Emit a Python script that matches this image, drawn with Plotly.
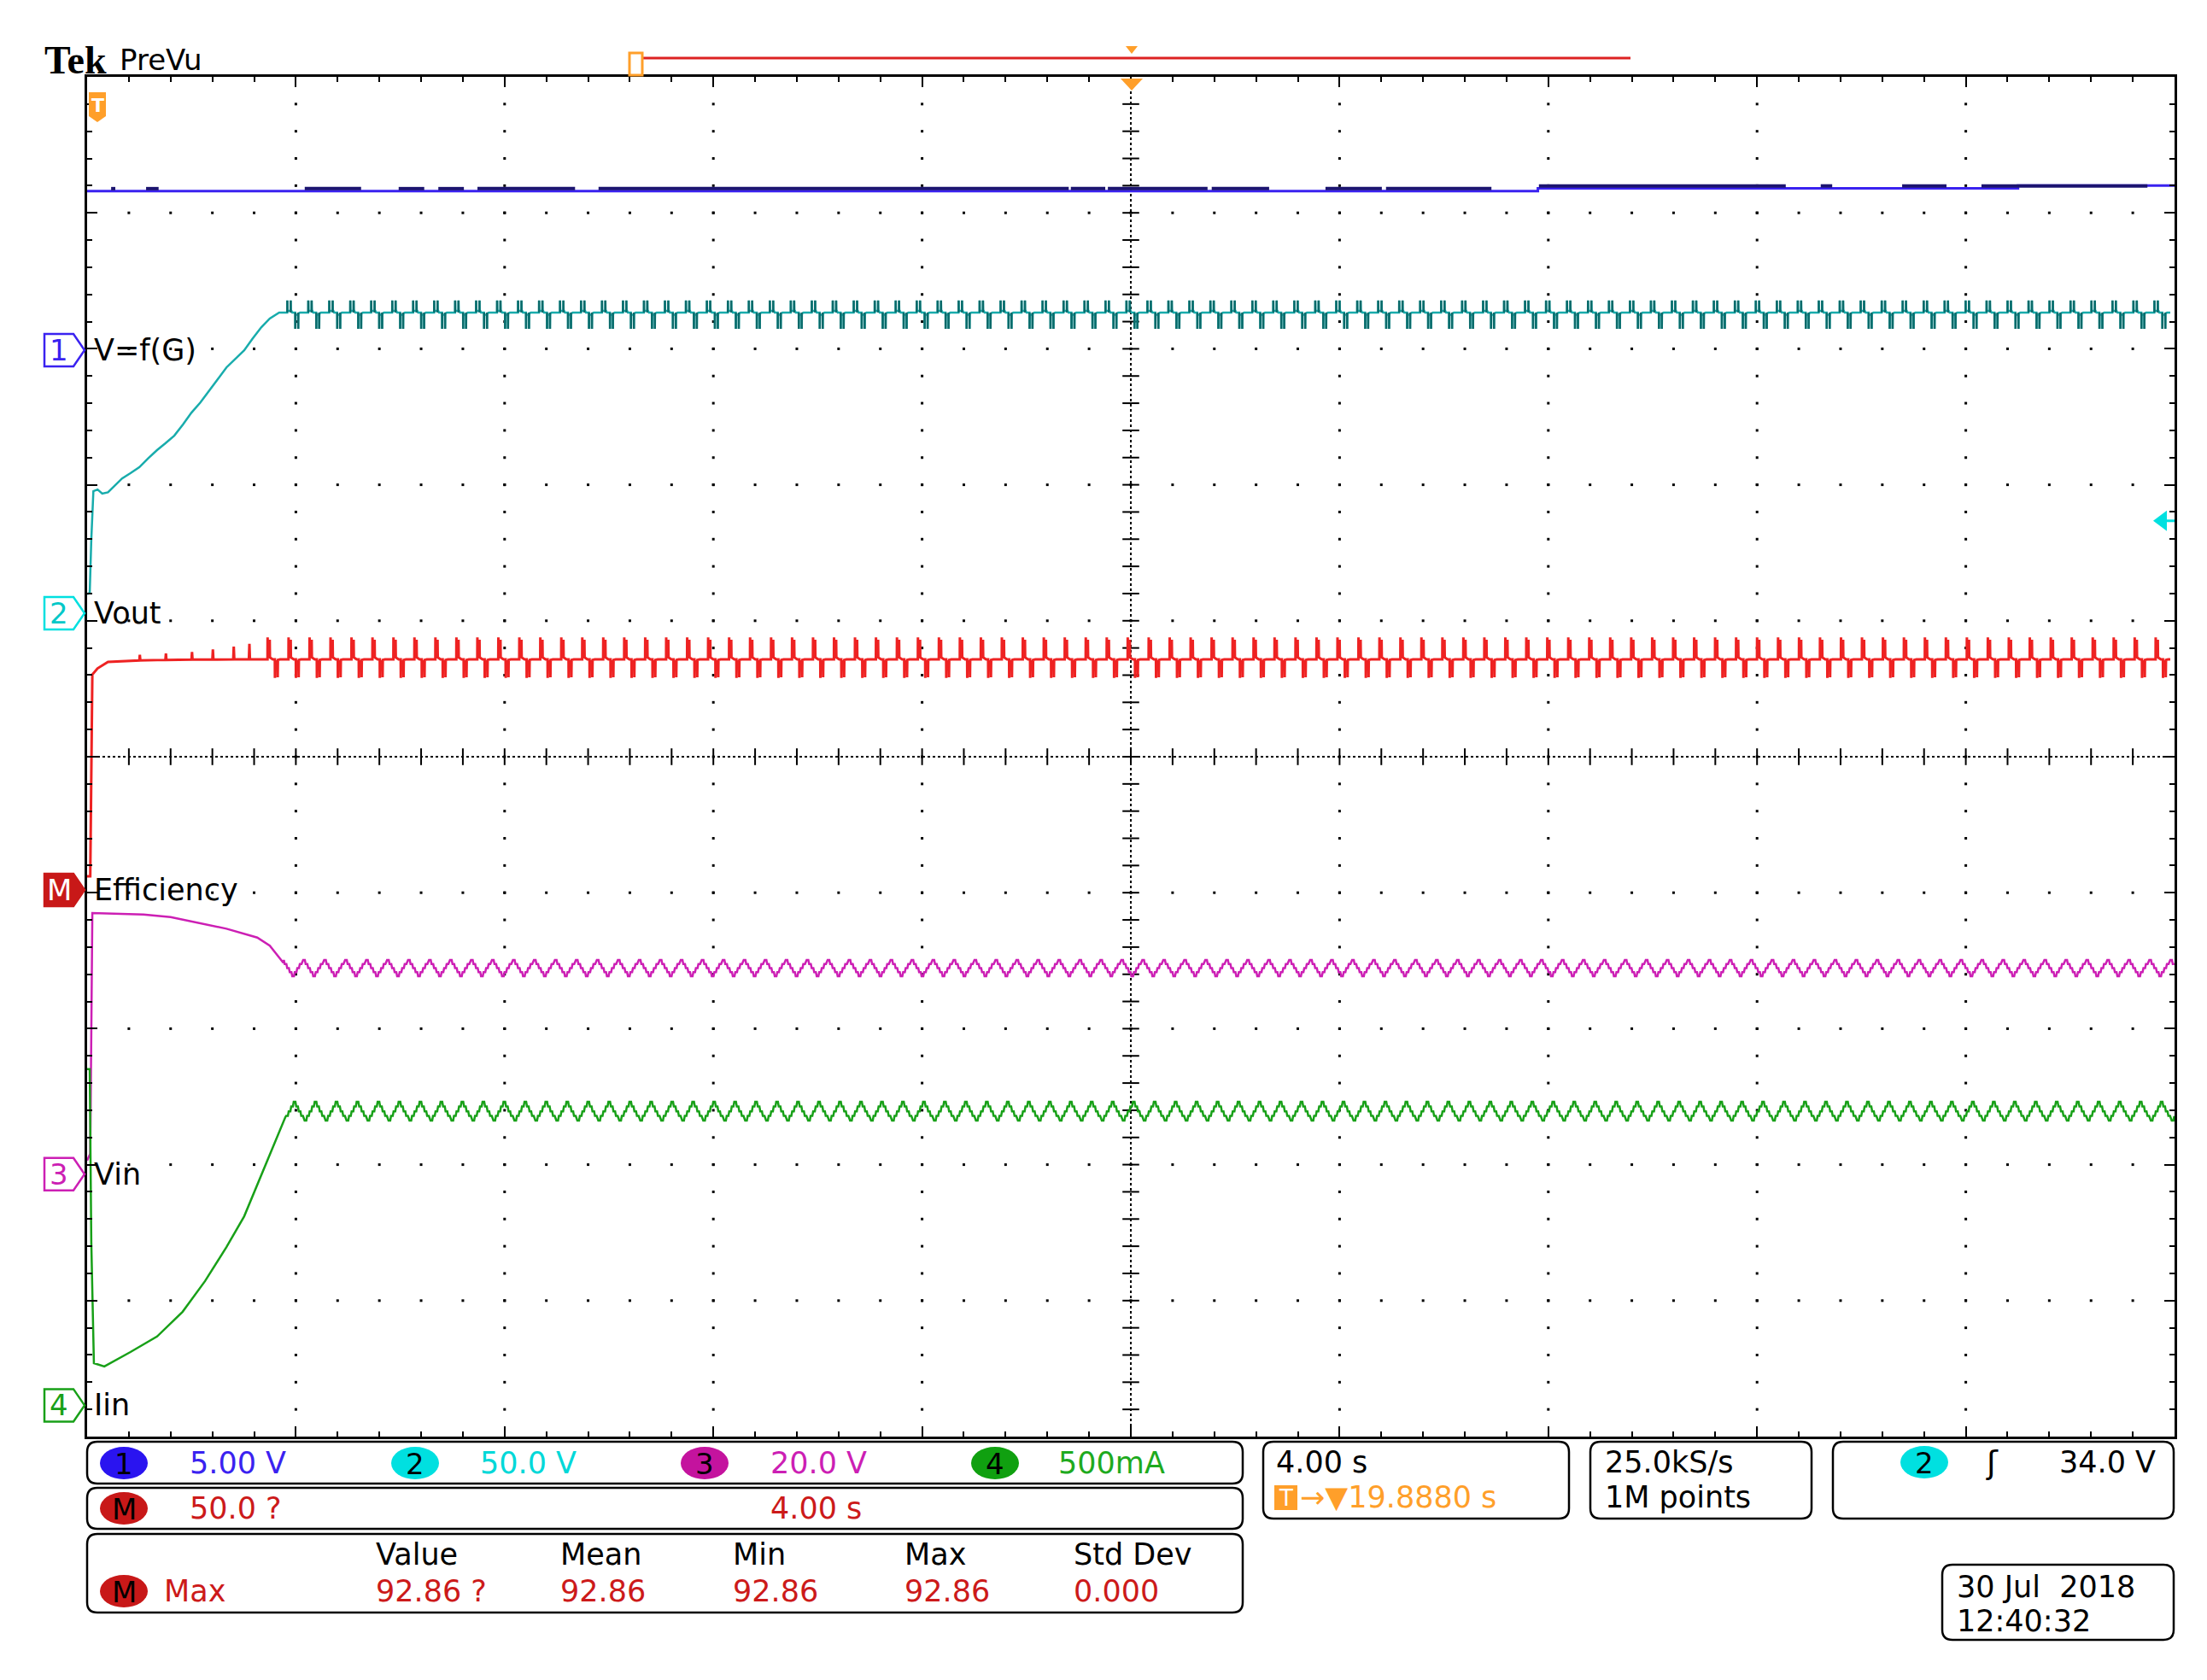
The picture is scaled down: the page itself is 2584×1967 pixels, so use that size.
import numpy as np
import plotly.graph_objects as go

# ---------------- screen settings (read from the scope) ----------------
T_SPAN = 40.0          # 10 div x 4.00 s/div
PERIOD = 0.402         # ripple period, s
T_REF = 0.12           # Vin ripple peak reference, s

CH1_GND, CH1_SCALE = 2.99, 5.0      # V/div
CH2_GND, CH2_SCALE = 1.055, 50.0    # V/div
M_GND, M_SCALE = -0.98, 50.0        # %/div
CH3_GND, CH3_SCALE = -3.07, 20.0    # V/div
CH4_GND, CH4_SCALE = -4.77, 0.5     # A/div

# ---------------- ch1  V=f(G) ----------------
CH1_T = [0.0, 27.8, 27.8, 37.0, 37.0, 40.0]
CH1_V = [5.85, 5.85, 5.95, 5.95, 6.05, 6.05]
CH1_NOISE = [(0.46, 0.54), (1.13, 1.37), (4.17, 5.25), (5.97, 6.46), (6.73, 7.22),
             (7.48, 9.35), (9.80, 18.81), (18.85, 19.51), (19.56, 21.47), (21.55, 22.65),
             (23.73, 24.81), (24.89, 26.91), (27.82, 32.55), (33.22, 33.44),
             (34.78, 35.63), (36.30, 39.48)]

# ---------------- ch2  Vout ----------------
VOUT_START_T = [0.0, 0.05, 0.08, 0.12, 0.20, 0.29, 0.40, 0.50, 0.67, 0.83, 1.00, 1.17, 1.34,
                1.50, 1.67, 1.84, 2.00, 2.17, 2.34, 2.50, 2.67, 2.84, 3.01, 3.17, 3.34, 3.50, 3.68]
VOUT_START_V = [7.0, 7.5, 27.0, 44.9, 45.5, 44.0, 44.5, 46.5, 49.6, 51.5, 53.7, 57.0, 60.0,
                62.5, 65.3, 69.5, 73.8, 77.5, 81.7, 86.0, 90.4, 93.5, 96.7, 101.0, 105.2, 108.4, 110.6]
VOUT_BASE = 110.6
VOUT_CYCLE_PHASE = [0.00, 0.24, 0.245, 0.255, 0.40, 0.405, 0.415, 0.48, 0.62, 0.625, 0.635,
                    0.76, 0.765, 0.775, 0.85]
VOUT_CYCLE_V = [110.6, 110.6, 115.0, 111.2, 111.2, 115.0, 111.6, 110.6, 110.6, 104.6, 109.8,
                109.8, 104.6, 110.2, 110.6]

# ---------------- M  Efficiency ----------------
EFF_START_T = [0.0, 0.06, 0.10, 0.20, 0.40, 0.80, 1.00, 1.01, 1.02, 1.50, 1.51, 1.52, 2.00,
               2.01, 2.02, 2.40, 2.41, 2.42, 2.80, 2.81, 2.82, 3.10, 3.11, 3.12, 3.30]
EFF_START_V = [5.0, 5.0, 79.2, 81.5, 83.9, 84.3, 84.4, 86.5, 84.4, 84.6, 87.0, 84.6, 84.7,
               87.5, 84.7, 84.7, 88.5, 84.7, 84.8, 89.5, 84.8, 84.8, 90.5, 84.8, 84.8]
EFF_CYCLE_PHASE = [0.00, 0.30, 0.305, 0.315, 0.40, 0.405, 0.415, 0.55, 0.65, 0.655, 0.665,
                   0.78, 0.785, 0.795, 0.90]
EFF_CYCLE_V = [84.8, 84.8, 92.86, 86.5, 86.5, 92.0, 85.5, 84.8, 84.8, 78.0, 84.0,
               84.0, 78.2, 84.6, 84.8]

# ---------------- ch3  Vin ----------------
VIN_START_T = [0.0, 0.06, 0.10, 1.08, 1.60, 2.09, 2.67, 3.26, 3.50, 3.76]
VIN_START_V = [2.0, 3.0, 38.4, 38.2, 37.8, 37.0, 36.1, 34.8, 33.6, 31.1]
VIN_CYCLE_PHASE = [0.0, 0.08, 0.12, 0.20, 0.24, 0.32, 0.36, 0.44, 0.48, 0.56, 0.60, 0.68,
                   0.72, 0.80, 0.84, 0.92]
VIN_CYCLE_V = [31.5, 31.5, 30.9, 30.9, 30.3, 30.3, 29.7, 29.7, 29.1, 29.1, 29.7, 29.7,
               30.3, 30.3, 30.9, 30.9]

# ---------------- ch4  Iin ----------------
IIN_START_T = [0.0, 0.05, 0.08, 0.13, 0.33, 0.83, 1.34, 1.83, 2.26, 2.67, 3.01, 3.34, 3.58, 3.80]
IIN_START_A = [1.236, 1.236, 0.60, 0.155, 0.143, 0.196, 0.253, 0.344, 0.457, 0.582, 0.695,
               0.849, 0.962, 1.060]
IIN_CYCLE_PHASE = [0.07, 0.15, 0.19, 0.27, 0.31, 0.39, 0.43, 0.51, 0.55, 0.63, 0.67, 0.75,
                   0.79, 0.87, 0.91, 0.99]
IIN_CYCLE_A = [1.047, 1.047, 1.064, 1.064, 1.081, 1.081, 1.099, 1.099, 1.116, 1.116, 1.099,
               1.099, 1.081, 1.081, 1.064, 1.064]

# ---------------- readouts ----------------
CH_SCALES_TXT = ["5.00 V", "50.0 V", "20.0 V", "500mA"]
MATH_TXT = ["50.0 ?", "4.00 s"]
MEAS_HEAD = ["Value", "Mean", "Min", "Max", "Std Dev"]
MEAS_VALS = ["92.86 ?", "92.86", "92.86", "92.86", "0.000"]
TRACE_LABELS = ["V=f(G)", "Vout", "Efficiency", "Vin", "Iin"]

# ---------------- geometry ----------------
W, H = 2584, 1967
L, R, T, B = 102, 38, 90, 285
PW, PH = W - L - R, H - T - B

BLUE = "#3a22f0"; NAVY = "#1c1470"; TEAL = "#18acac"; DTEAL = "#0b6a6a"; CYAN = "#00e0e0"
RED = "#ee2222"; MAG = "#cc1fb4"; GREEN = "#18a018"; ORANGE = "#ff9f2a"
FONT = "DejaVu Sans"


def px(x):
    return (x - L) / PW


def py(y):
    return (T + PH - y) / PH


def tile(phases, values, t_after):
    ts, vs = [], []
    k = 0
    while T_REF + PERIOD * k <= T_SPAN:
        for p, v in zip(phases, values):
            t = T_REF + PERIOD * (k + p)
            if t_after < t <= T_SPAN:
                ts.append(t)
                vs.append(v)
        k += 1
    return ts, vs


def to_div(vals, gnd, scale):
    return [gnd + v / scale for v in vals]


fig = go.Figure()

# graticule dots
gx, gy = [], []
for r in [-4, -3, -2, -1, 1, 2, 3, 4]:
    for i in range(1, 50):
        gx.append(0.8 * i); gy.append(r)
for c in [4, 8, 12, 16, 24, 28, 32, 36]:
    for j in range(1, 50):
        gx.append(c); gy.append(-5 + 0.2 * j)
fig.add_trace(go.Scatter(x=gx, y=gy, mode="markers", hoverinfo="skip",
                         marker=dict(symbol="square", size=3, color="black")))
# center cross ticks
fig.add_trace(go.Scatter(x=[20] * 49, y=[-5 + 0.2 * j for j in range(1, 50)], mode="markers",
                         hoverinfo="skip",
                         marker=dict(symbol="line-ew", size=14, line=dict(width=2, color="black"))))
fig.add_trace(go.Scatter(x=[0.8 * i for i in range(1, 50)], y=[0] * 49, mode="markers",
                         hoverinfo="skip",
                         marker=dict(symbol="line-ns", size=14, line=dict(width=2, color="black"))))

# ch1
fig.add_trace(go.Scatter(x=CH1_T, y=to_div(CH1_V, CH1_GND, CH1_SCALE), mode="lines",
                         line=dict(color=BLUE, width=3), hoverinfo="skip"))
nx, ny = [], []
for a, b in CH1_NOISE:
    lv = float(np.interp(a, CH1_T, CH1_V))
    nx += [a, b, None]
    ny += [CH1_GND + (lv + 0.09) / CH1_SCALE] * 2 + [None]
fig.add_trace(go.Scatter(x=nx, y=ny, mode="lines", line=dict(color=NAVY, width=4),
                         hoverinfo="skip", connectgaps=False))

# ch2
tt, vv = tile(VOUT_CYCLE_PHASE, VOUT_CYCLE_V, VOUT_START_T[-1])
fig.add_trace(go.Scatter(x=VOUT_START_T + tt, y=to_div(VOUT_START_V + vv, CH2_GND, CH2_SCALE),
                         mode="lines", line=dict(color=TEAL, width=2.5), hoverinfo="skip"))
sx, sy = [], []
for t_, v_ in zip(tt, vv):
    if abs(v_ - VOUT_BASE) > 2.5:
        sx += [t_, t_, None]
        sy += [CH2_GND + VOUT_BASE / CH2_SCALE, CH2_GND + v_ / CH2_SCALE, None]
fig.add_trace(go.Scatter(x=sx, y=sy, mode="lines", line=dict(color=DTEAL, width=2.5),
                         hoverinfo="skip", connectgaps=False))
# M
tt, vv = tile(EFF_CYCLE_PHASE, EFF_CYCLE_V, EFF_START_T[-1])
fig.add_trace(go.Scatter(x=EFF_START_T + tt, y=to_div(EFF_START_V + vv, M_GND, M_SCALE),
                         mode="lines", line=dict(color=RED, width=3), hoverinfo="skip"))
# ch3
tt, vv = tile(VIN_CYCLE_PHASE, VIN_CYCLE_V, VIN_START_T[-1])
fig.add_trace(go.Scatter(x=VIN_START_T + tt, y=to_div(VIN_START_V + vv, CH3_GND, CH3_SCALE),
                         mode="lines", line=dict(color=MAG, width=2.5), hoverinfo="skip"))
# ch4
tt, vv = tile(IIN_CYCLE_PHASE, IIN_CYCLE_A, IIN_START_T[-1])
fig.add_trace(go.Scatter(x=IIN_START_T + tt, y=to_div(IIN_START_A + vv, CH4_GND, CH4_SCALE),
                         mode="lines", line=dict(color=GREEN, width=2.5), hoverinfo="skip"))

shapes = []
ann = []

# center dotted lines
shapes.append(dict(type="line", xref="x", yref="y", x0=20, x1=20, y0=-5, y1=5, layer="below",
                   line=dict(color="black", width=2, dash="dot")))
shapes.append(dict(type="line", xref="x", yref="y", x0=0, x1=40, y0=0, y1=0, layer="below",
                   line=dict(color="black", width=2, dash="dot")))


def rrect(x0, y0, x1, y1, r=12):
    def P(x, y):
        return f"{px(x):.6f},{py(y):.6f}"
    return (f"M {P(x0 + r, y0)} L {P(x1 - r, y0)} Q {P(x1, y0)} {P(x1, y0 + r)} "
            f"L {P(x1, y1 - r)} Q {P(x1, y1)} {P(x1 - r, y1)} L {P(x0 + r, y1)} "
            f"Q {P(x0, y1)} {P(x0, y1 - r)} L {P(x0, y0 + r)} Q {P(x0, y0)} {P(x0 + r, y0)} Z")


def box(x0, y0, x1, y1):
    shapes.append(dict(type="path", xref="paper", yref="paper", path=rrect(x0, y0, x1, y1),
                       line=dict(color="black", width=2.5)))


def text(x, y, s, color="black", size=35, anchor="left", family=FONT):
    ann.append(dict(xref="paper", yref="paper", x=px(x), y=py(y), text=s, showarrow=False,
                    xanchor=anchor, yanchor="middle",
                    font=dict(family=family, size=size, color=color)))


def badge(cx, cy, fill, s, txtcol="black"):
    shapes.append(dict(type="circle", xref="paper", yref="paper", x0=px(cx - 28), x1=px(cx + 28),
                       y0=py(cy + 19), y1=py(cy - 19), fillcolor=fill, line=dict(width=0)))
    text(cx, cy + 1, s, txtcol, 34, "center")


# info boxes
box(102, 1688, 1455, 1737)
box(102, 1742, 1455, 1790)
box(102, 1796, 1455, 1888)
box(1479, 1688, 1837, 1778)
box(1862, 1688, 2121, 1778)
box(2146, 1688, 2545, 1778)
box(2274, 1832, 2545, 1920)

badge(145, 1713, "#2a14f0", "1")
badge(486, 1713, CYAN, "2")
badge(825, 1713, "#c4139e", "3")
badge(1165, 1713, "#10a010", "4")
for xx, s, col in zip([220, 560, 900, 1237], CH_SCALES_TXT, [BLUE, "#00d8d8", MAG, "#1eaa1e"]):
    text(xx, 1713, s, col)
badge(145, 1766, "#c81818", "M")
text(220, 1766, MATH_TXT[0], "#cc1a1a")
text(900, 1766, MATH_TXT[1], "#cc1a1a")
for xx, s in zip([438, 654, 856, 1057, 1255], MEAS_HEAD):
    text(xx, 1820, s)
badge(145, 1863, "#c81818", "M")
text(190, 1863, "Max", "#cc1a1a")
for xx, s in zip([438, 654, 856, 1057, 1255], MEAS_VALS):
    text(xx, 1863, s, "#cc1a1a")

text(1492, 1712, "4.00 s")
shapes.append(dict(type="rect", xref="paper", yref="paper", x0=px(1492), x1=px(1519),
                   y0=py(1768), y1=py(1739), fillcolor=ORANGE, line=dict(width=0)))
text(1505, 1754, "T", "white", 26, "center")
text(1520, 1753, "\u2192\u25bc19.8880 s", ORANGE)
text(1877, 1712, "25.0kS/s")
text(1877, 1753, "1M points")
badge(2253, 1712, CYAN, "2")
text(2332, 1712, "\u0283", "black", 38, "center")
text(2526, 1712, "34.0 V", "black", 35, "right")
text(2289, 1858, "30 Jul\u00a0\u00a02018")
text(2289, 1898, "12:40:32")

# header
text(50, 70, "<b>Tek</b>", "black", 46, "left", "Liberation Serif")
text(138, 70, "PreVu", "black", 34)
shapes.append(dict(type="line", xref="paper", yref="paper", x0=px(752), x1=px(1909),
                   y0=py(68), y1=py(68), line=dict(color="#dd2222", width=3)))
shapes.append(dict(type="rect", xref="paper", yref="paper", x0=px(737), x1=px(752),
                   y0=py(88), y1=py(62), fillcolor="white", line=dict(color=ORANGE, width=3)))
shapes.append(dict(type="path", xref="paper", yref="paper",
                   path=f"M {px(1318)},{py(54)} L {px(1332)},{py(54)} L {px(1325)},{py(63)} Z",
                   fillcolor=ORANGE, line=dict(width=0)))
shapes.append(dict(type="path", xref="paper", yref="paper",
                   path=f"M {px(1312)},{py(92)} L {px(1338)},{py(92)} L {px(1325)},{py(106)} Z",
                   fillcolor=ORANGE, line=dict(width=0)))
# trigger position marker inside plot
shapes.append(dict(type="path", xref="paper", yref="paper",
                   path=(f"M {px(104)},{py(108)} L {px(124)},{py(108)} L {px(124)},{py(136)} "
                         f"L {px(114)},{py(143)} L {px(104)},{py(136)} Z"),
                   fillcolor=ORANGE, line=dict(width=0)))
text(114, 124, "<b>T</b>", "white", 22, "center")
# trigger level arrow (ch2, 34.0 V)
lvl = CH2_GND + 34.0 / CH2_SCALE
shapes.append(dict(type="path", xref="paper", yref="y",
                   path=f"M {px(2521)},{lvl} L {px(2537)},{lvl + 0.075} L {px(2537)},{lvl - 0.075} Z",
                   fillcolor=CYAN, line=dict(width=0)))
shapes.append(dict(type="line", xref="paper", yref="y", x0=px(2535), x1=px(2546), y0=lvl, y1=lvl,
                   line=dict(color=CYAN, width=3)))

# channel ground markers + labels
markers = [(CH1_GND, "1", BLUE, "white", BLUE), (CH2_GND, "2", CYAN, "white", "#00c8c8"),
           (M_GND, "M", "#c81818", "#c81818", "white"), (CH3_GND, "3", MAG, "white", MAG),
           (CH4_GND, "4", GREEN, "white", GREEN)]
hh = 19 / (PH / 10)
for (g, s, lc, fc, tc), lab in zip(markers, TRACE_LABELS):
    shapes.append(dict(type="path", xref="paper", yref="y",
                       path=(f"M {px(52)},{g + hh} L {px(86)},{g + hh} L {px(99)},{g} "
                             f"L {px(86)},{g - hh} L {px(52)},{g - hh} Z"),
                       fillcolor=fc, line=dict(color=lc, width=2.5)))
    ann.append(dict(xref="paper", yref="y", x=px(69), y=g, text=s, showarrow=False,
                    xanchor="center", yanchor="middle",
                    font=dict(family=FONT, size=34, color=tc)))
    ann.append(dict(xref="paper", yref="y", x=px(108), y=g, text=lab, showarrow=False,
                    xanchor="left", yanchor="middle",
                    font=dict(family=FONT, size=35, color="black")))

axis_common = dict(showgrid=False, zeroline=False, showline=True, linecolor="black", linewidth=3,
                   mirror="ticks", ticks="inside", ticklen=12, tickwidth=2, tickcolor="black",
                   showticklabels=False, fixedrange=True)
fig.update_layout(
    width=W, height=H, margin=dict(l=L, r=R, t=T, b=B, pad=0),
    paper_bgcolor="white", plot_bgcolor="white", showlegend=False,
    xaxis=dict(range=[0, T_SPAN], tick0=0, dtick=4,
               minor=dict(dtick=0.8, ticks="inside", ticklen=6, tickwidth=2, tickcolor="black"),
               **axis_common),
    yaxis=dict(range=[-5, 5], tick0=0, dtick=1,
               minor=dict(dtick=0.2, ticks="inside", ticklen=6, tickwidth=2, tickcolor="black"),
               **axis_common),
    shapes=shapes, annotations=ann,
)

fig.write_html("out.html", config={"displayModeBar": False},
               post_script="document.body.style.margin='0';")
